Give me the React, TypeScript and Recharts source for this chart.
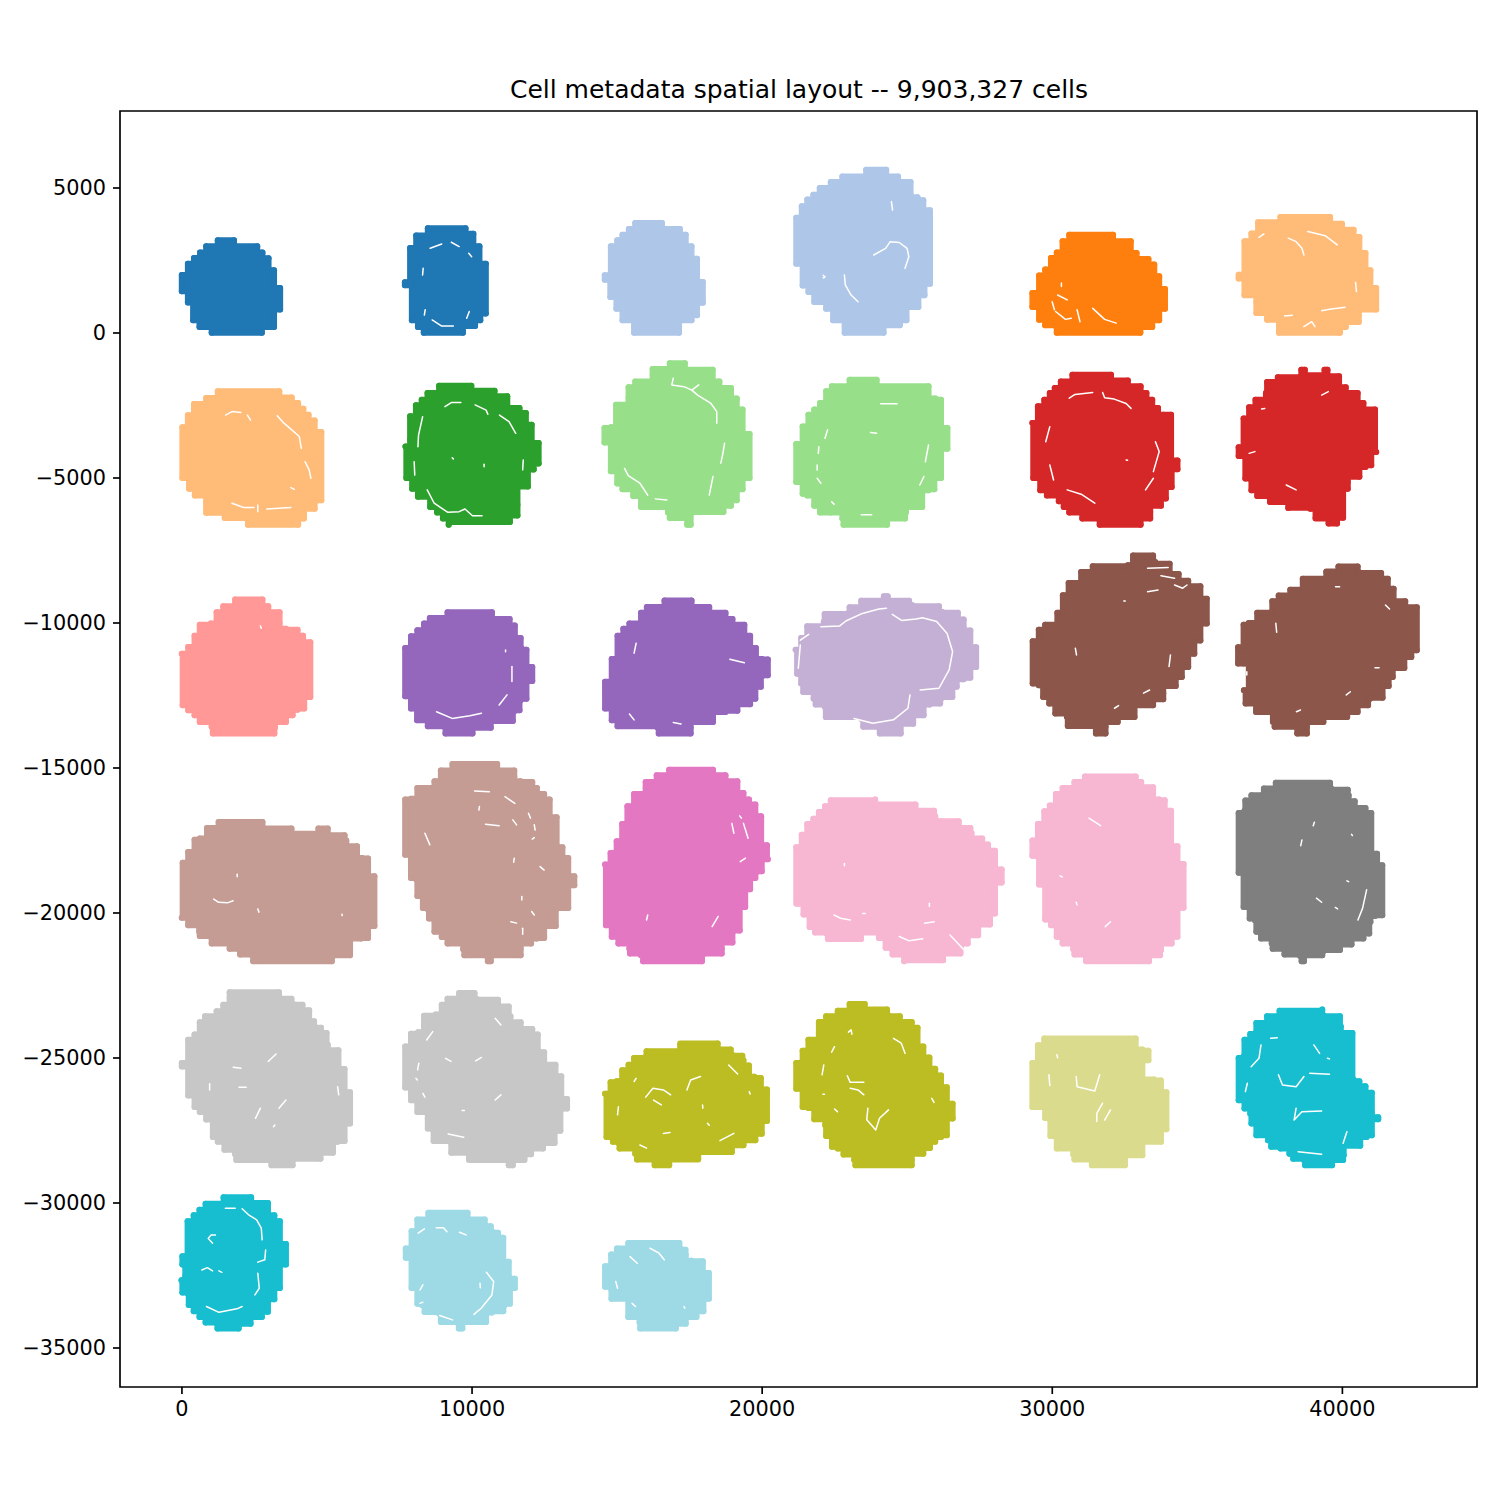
import { ScatterChart, Scatter, XAxis, YAxis, ReferenceArea } from "recharts";

type Pair = number[];

const TITLE = "Cell metadata spatial layout -- 9,903,327 cells";
const xDomain = [-2135, 44640];
const yDomain = [-36345, 7655];
const xTicks = [0, 10000, 20000, 30000, 40000];
const yTicks = [5000, 0, -5000, -10000, -15000, -20000, -25000, -30000, -35000];

// my x readings came out a little high against the ticks
const X_READING_BIAS = 45;

// tissue outlines, corner points of the tile staircase
const blob01: Pair[] = [[1840,3200],[2640,2990],[2820,2780],[3030,2580],[3220,2160],[3430,1550],[3430,810],[3220,210],[2800,10],[1070,10],[650,210],[430,440],[250,1050],[40,1440],[40,2000],[250,2390],[460,2590],[670,2780],[880,2990],[1280,3200]];
const blob02: Pair[] = [[8520,3610],[9820,3610],[10090,3420],[10300,2990],[10520,2390],[10520,670],[10330,440],[10150,240],[9730,10],[8380,10],[8180,210],[7970,440],[7940,1650],[7730,1650],[7730,1750],[7910,2930],[8120,3360]];
const blob03: Pair[] = [[16590,3790],[17210,3590],[17410,3390],[17610,2990],[17800,2560],[18000,1760],[18000,1040],[17800,610],[17610,440],[17180,230],[17180,10],[15630,10],[15630,230],[15230,440],[15020,840],[14810,1240],[14810,1840],[14620,1840],[14620,1990],[14830,1990],[14830,2990],[15050,3200],[15230,3390],[15450,3590],[15670,3790]];
const blob04: Pair[] = [[24320,5630],[24730,5400],[25160,5210],[25160,4800],[25400,4680],[25600,4580],[25600,4230],[25830,4230],[25830,1700],[25640,1700],[25640,1300],[25430,1300],[25430,900],[25020,440],[24790,270],[24230,10],[22890,10],[22890,240],[22490,440],[22250,840],[21840,1070],[21840,1410],[21640,1410],[21440,1640],[21440,2390],[21220,2390],[21220,3970],[21410,4370],[21600,4600],[21810,4770],[22030,5000],[22410,5210],[22810,5400],[23630,5630]];
const blob05: Pair[] = [[32140,3390],[32750,3160],[32950,2760],[33360,2550],[33560,2360],[33730,1960],[33930,1520],[33930,840],[33730,440],[33490,210],[33080,10],[30200,10],[30170,230],[29800,270],[29590,460],[29590,840],[29360,900],[29360,1380],[29590,1440],[29590,1980],[29800,2190],[30000,2590],[30200,2780],[30400,3160],[30630,3390]];
const blob06: Pair[] = [[39620,4000],[40030,3770],[40430,3560],[40630,3310],[40840,2760],[41010,2160],[41210,1550],[41210,810],[40610,610],[40610,380],[40160,210],[39960,10],[37860,10],[37860,320],[37450,460],[37080,690],[37080,1070],[36670,1300],[36670,1880],[36470,1880],[36470,2010],[36670,2010],[36670,3160],[36910,3430],[37140,3820],[37910,3820],[37910,4000]];
const blob07: Pair[] = [[3400,-2010],[3830,-2220],[4050,-2410],[4230,-2610],[4410,-2820],[4620,-3020],[4850,-3410],[4850,-5770],[4620,-5830],[4620,-6060],[4250,-6230],[4250,-6400],[4050,-6610],[2320,-6610],[2280,-6400],[1520,-6380],[1480,-6200],[880,-6200],[880,-5830],[490,-5600],[290,-5370],[290,-5000],[60,-5000],[60,-3250],[250,-3220],[250,-2840],[460,-2790],[460,-2450],[860,-2410],[880,-2240],[1280,-2220],[1280,-2010]];
const blob08: Pair[] = [[10020,-1820],[10820,-1990],[11260,-2180],[11680,-2590],[11900,-2760],[12100,-3160],[12340,-3790],[12340,-4500],[12170,-4710],[11970,-5290],[11610,-5920],[11610,-6290],[11350,-6520],[9240,-6610],[9040,-6400],[8840,-6190],[8600,-6000],[8180,-5650],[7980,-5370],[7780,-5000],[7750,-3910],[7910,-3670],[7910,-2870],[8110,-2490],[8310,-2300],[8510,-2070],[8910,-2010],[8910,-1820]];
const blob09: Pair[] = [[17380,-1040],[17380,-1240],[18340,-1270],[18570,-1670],[18970,-1900],[19170,-2260],[19370,-2640],[19610,-3480],[19610,-5000],[19370,-5020],[19370,-5390],[19170,-5420],[19170,-5770],[18970,-5960],[18710,-6170],[17650,-6190],[17580,-6610],[17460,-6610],[17420,-6380],[16860,-6380],[16800,-6190],[15870,-6000],[15600,-5620],[15230,-5390],[15050,-5190],[15050,-4790],[14830,-4770],[14830,-3810],[14610,-3780],[14610,-3280],[14830,-3250],[15010,-2470],[15440,-2240],[15440,-1870],[15670,-1670],[16270,-1440],[16270,-1240],[16860,-1240],[16860,-1040]];
const blob10: Pair[] = [[23990,-1610],[24030,-1840],[25780,-1840],[26010,-2260],[26210,-2300],[26210,-3250],[26430,-3280],[26430,-3990],[26210,-4020],[26210,-5000],[25980,-5020],[25980,-5390],[25780,-5420],[25560,-5620],[25560,-6000],[25000,-6190],[24970,-6400],[24350,-6430],[24350,-6610],[22850,-6610],[22810,-6400],[22410,-6190],[22040,-6190],[21840,-5960],[21840,-5650],[21600,-5600],[21440,-5540],[21440,-5160],[21220,-5140],[21220,-3830],[21440,-3790],[21440,-3220],[21640,-3160],[21640,-2820],[21840,-2640],[22040,-2410],[22250,-2360],[22250,-2010],[22450,-1840],[23060,-1800],[23060,-1610]];
const blob11: Pair[] = [[32070,-1440],[32650,-1640],[33090,-1840],[33290,-2070],[33490,-2300],[33690,-2590],[33890,-2820],[34140,-2820],[34140,-4370],[34360,-4400],[34360,-4700],[34160,-4730],[34160,-5310],[33960,-5340],[33960,-5710],[33790,-5960],[33420,-6170],[33420,-6400],[33090,-6610],[31680,-6610],[31660,-6420],[31080,-6400],[31040,-6190],[30630,-6190],[30440,-6000],[30270,-5800],[29860,-5600],[29630,-5420],[29630,-5020],[29390,-5000],[29360,-3100],[29550,-3070],[29550,-2530],[29770,-2300],[29960,-2070],[30130,-1900],[30340,-1670],[30740,-1640],[30740,-1440]];
const blob12: Pair[] = [[38630,-1270],[38750,-1270],[38750,-1460],[39430,-1460],[39430,-1270],[39530,-1270],[39530,-1460],[39930,-1490],[40160,-1870],[40570,-2070],[40770,-2410],[41170,-2640],[41210,-4100],[41040,-4160],[41040,-4560],[40840,-4620],[40630,-4960],[40230,-5140],[40230,-5370],[40070,-5420],[40070,-6370],[39860,-6400],[39860,-6570],[39570,-6570],[39540,-6400],[39120,-6380],[38940,-6060],[38180,-6030],[38150,-5830],[37550,-5830],[37510,-5650],[37110,-5620],[36910,-5420],[36910,-5080],[36700,-5020],[36670,-4280],[36470,-4240],[36470,-3940],[36670,-3910],[36640,-2950],[36870,-2910],[36830,-2560],[37050,-2300],[37410,-2070],[37450,-1690],[37820,-1530],[38630,-1460]];
const blob13: Pair[] = [[2820,-9190],[3020,-9420],[3410,-9630],[3410,-10020],[3630,-10200],[4030,-10230],[4220,-10440],[4470,-10660],[4470,-12550],[4260,-12610],[4260,-12950],[4030,-12990],[3860,-13180],[3630,-13410],[3250,-13610],[3230,-13810],[1110,-13810],[1070,-13580],[660,-13410],[480,-13180],[260,-13010],[70,-12840],[40,-11060],[260,-10830],[480,-10440],[660,-10060],[1040,-10020],[1240,-9630],[1470,-9420],[1880,-9400],[1880,-9190]];
const blob14: Pair[] = [[10730,-9630],[11340,-9860],[11520,-10090],[11520,-10460],[11720,-10520],[11740,-10860],[11920,-10920],[11920,-11470],[12120,-11520],[12120,-12000],[11920,-12030],[11920,-12610],[11720,-12660],[11680,-13010],[11480,-13070],[11450,-13380],[10690,-13410],[10690,-13610],[10060,-13640],[10060,-13810],[9130,-13810],[9130,-13580],[8520,-13560],[8520,-13350],[8150,-13350],[8150,-12990],[7940,-12950],[7940,-12570],[7740,-12530],[7740,-10860],[7940,-10800],[7940,-10460],[8160,-10250],[8390,-10020],[8590,-9830],[9200,-9790],[9200,-9630]];
const blob15: Pair[] = [[17610,-9220],[18220,-9450],[18780,-9650],[19020,-9860],[19430,-10060],[19630,-10440],[19830,-10860],[20040,-11240],[20240,-11260],[20240,-11800],[20040,-11840],[20000,-12200],[19810,-12260],[19810,-12610],[19630,-12800],[19190,-12840],[19190,-13030],[18780,-13070],[18350,-13410],[17580,-13610],[17580,-13810],[16480,-13810],[16440,-13610],[15060,-13560],[14860,-13350],[14860,-12990],[14630,-12950],[14630,-12030],[14860,-12000],[14860,-11240],[15060,-11200],[15060,-10440],[15260,-10200],[15470,-10020],[15870,-9650],[16070,-9450],[16680,-9420],[16680,-9220]];
const blob16: Pair[] = [[24240,-9080],[24370,-9080],[24430,-9230],[25110,-9230],[25220,-9390],[26140,-9420],[26250,-9620],[26790,-9650],[26990,-9880],[26990,-10170],[27220,-10260],[27220,-10840],[27420,-10840],[27420,-11520],[27220,-11550],[27220,-11890],[26990,-11940],[26750,-12200],[26600,-12550],[26250,-12580],[26180,-12780],[25820,-12810],[25610,-13180],[25250,-13470],[24820,-13810],[24100,-13810],[24030,-13580],[23530,-13580],[23460,-13300],[22740,-13240],[22240,-13240],[22200,-12890],[21890,-12810],[21820,-12610],[21460,-12380],[21390,-12090],[21250,-11750],[21200,-10920],[21390,-10520],[21600,-10110],[22170,-9960],[22200,-9690],[23030,-9650],[23060,-9460],[23460,-9230],[24240,-9230]];
const blob17: Pair[] = [[33520,-7670],[33590,-7900],[34090,-7960],[34400,-8310],[34730,-8540],[35150,-8730],[35150,-9140],[35370,-9160],[35370,-10020],[35150,-10060],[35150,-10600],[34970,-10630],[34940,-11060],[34730,-11090],[34730,-11520],[34510,-11550],[34510,-11860],[34300,-11890],[34300,-12170],[33870,-12430],[33870,-12630],[33520,-12840],[32880,-13240],[32300,-13410],[31880,-13580],[31880,-13810],[31550,-13810],[31510,-13580],[30580,-13550],[30550,-13240],[30150,-13120],[29940,-12780],[29730,-12550],[29580,-12150],[29370,-12090],[29370,-10630],[29580,-10570],[29580,-10230],[29800,-10060],[30220,-9650],[30410,-9600],[30410,-9040],[30610,-8960],[30610,-8620],[31040,-8240],[31440,-8220],[31440,-8040],[32650,-8010],[32830,-7820],[32830,-7670]];
const blob18: Pair[] = [[40570,-8050],[40610,-8240],[41380,-8280],[41610,-8470],[41810,-8820],[42210,-9250],[42610,-9460],[42610,-10940],[42420,-11170],[42180,-11550],[41780,-11860],[41640,-12170],[41430,-12200],[41430,-12580],[41000,-12610],[40930,-12840],[40570,-13070],[40210,-13240],[39390,-13410],[38820,-13580],[38820,-13810],[38490,-13810],[38450,-13580],[37710,-13580],[37650,-13410],[37070,-13070],[36710,-12780],[36650,-12320],[36820,-12260],[36820,-11430],[36640,-11400],[36450,-11400],[36450,-10840],[36640,-10800],[36640,-10060],[36820,-10000],[37110,-9650],[37630,-9600],[37630,-9250],[37850,-9050],[38250,-8850],[38680,-8470],[39490,-8430],[39490,-8240],[39910,-8220],[39910,-8050]];
const blob19: Pair[] = [[1310,-16860],[2820,-16860],[2850,-17070],[3820,-17090],[3860,-17270],[4710,-17270],[4750,-17090],[5070,-17090],[5110,-17300],[5650,-17320],[5710,-17500],[6080,-17700],[6260,-18100],[6460,-18120],[6460,-18700],[6680,-18730],[6680,-20450],[6460,-20480],[6460,-20860],[6220,-20880],[5840,-21280],[5840,-21460],[5250,-21480],[5210,-21660],[2500,-21660],[2460,-21460],[2050,-21430],[2010,-21250],[1690,-21230],[1650,-21050],[1070,-21050],[1040,-20830],[660,-20790],[640,-20650],[260,-20420],[260,-20190],[40,-20160],[70,-18270],[260,-18240],[260,-17900],[480,-17850],[480,-17470],[660,-17430],[910,-17070],[1310,-17070]];
const blob20: Pair[] = [[10910,-14860],[10940,-15070],[11500,-15090],[11500,-15290],[11720,-15460],[12120,-15480],[12280,-15690],[12530,-15900],[12720,-16090],[12740,-16700],[12960,-16700],[12960,-17700],[13160,-17730],[13160,-18080],[13360,-18100],[13360,-18700],[13570,-18730],[13570,-19040],[13360,-19070],[13360,-19830],[12960,-19870],[12930,-20450],[12550,-20480],[12530,-20860],[12280,-20880],[12080,-21050],[11720,-21230],[11720,-21460],[10730,-21480],[10690,-21660],[10590,-21660],[10550,-21480],[9780,-21460],[9740,-21250],[9200,-21050],[9000,-20830],[8750,-20650],[8750,-20250],[8560,-20190],[8520,-19870],[8350,-19830],[8320,-19450],[8160,-19410],[8120,-18840],[7940,-18790],[7940,-18030],[7740,-17990],[7740,-16090],[7940,-16060],[8160,-15690],[8750,-15460],[8970,-15090],[9370,-15060],[9370,-14860]];
const blob21: Pair[] = [[16840,-15060],[18350,-15060],[18380,-15230],[18780,-15250],[19190,-15460],[19400,-15860],[19590,-16090],[19810,-16260],[19810,-16610],[20010,-16660],[20010,-17620],[20210,-17660],[20240,-18150],[20030,-18180],[20030,-18560],[19830,-18610],[19810,-18790],[19630,-18840],[19630,-19180],[19460,-19220],[19460,-19790],[19270,-19820],[19270,-20600],[19050,-20630],[19020,-21020],[18650,-21230],[18650,-21400],[18010,-21430],[17970,-21660],[15940,-21660],[15870,-21460],[15490,-21400],[15470,-21230],[15090,-21050],[14860,-20820],[14860,-20480],[14660,-20420],[14630,-18330],[14820,-18270],[14820,-17930],[15030,-17870],[15030,-17530],[15220,-17470],[15220,-16930],[15400,-16860],[15400,-16320],[15630,-16260],[15630,-15900],[16030,-15690],[16030,-15480],[16410,-15440],[16410,-15250],[16840,-15230]];
const blob22: Pair[] = [[22410,-16110],[23940,-16090],[23990,-16260],[25330,-16260],[25370,-16460],[25970,-16470],[26010,-16660],[26210,-16840],[26820,-16840],[26860,-17040],[27220,-17070],[27260,-17240],[27630,-17430],[27830,-17640],[28070,-17850],[28070,-18420],[28300,-18500],[28300,-18950],[28100,-18990],[28070,-20020],[27900,-20050],[27900,-20400],[27490,-20420],[27490,-20770],[27130,-20820],[27130,-21050],[26910,-21110],[26880,-21400],[26280,-21430],[26280,-21630],[24940,-21660],[24920,-21480],[24540,-21430],[24510,-21250],[24300,-21200],[24270,-20860],[24070,-20860],[24070,-20670],[23450,-20670],[23450,-20900],[22310,-20900],[22270,-20710],[21870,-20670],[21680,-20480],[21680,-20100],[21470,-20050],[21470,-19730],[21260,-19680],[21220,-17730],[21410,-17660],[21410,-17300],[21600,-17270],[21600,-16930],[21810,-16750],[22000,-16520],[22210,-16320],[22410,-16300]];
const blob23: Pair[] = [[31170,-15290],[32920,-15290],[33110,-15480],[33520,-15660],[33730,-16090],[33920,-16110],[34140,-16470],[34140,-17660],[34360,-17700],[34360,-18270],[34570,-18310],[34570,-19820],[34360,-19870],[34360,-20820],[34160,-20860],[34160,-21050],[33790,-21280],[33760,-21460],[33380,-21660],[31210,-21660],[31170,-21460],[30810,-21430],[30770,-21250],[30400,-21050],[30200,-20820],[30000,-20420],[29800,-20220],[29770,-19070],[29590,-19020],[29550,-18070],[29360,-18030],[29360,-17500],[29550,-17470],[29550,-16930],[29770,-16890],[29770,-16490],[29960,-16290],[30170,-16240],[30170,-15900],[30400,-15690],[30810,-15480],[31170,-15460]];
const blob24: Pair[] = [[37750,-15510],[39620,-15510],[39660,-15710],[40230,-15750],[40260,-15940],[40470,-16150],[40840,-16380],[41040,-16550],[41040,-17930],[41240,-17960],[41240,-18310],[41420,-18350],[41420,-20080],[41170,-20100],[41010,-20310],[40970,-20710],[40770,-20880],[40360,-21090],[39960,-21280],[39390,-21320],[39350,-21460],[38750,-21480],[38720,-21660],[38640,-21660],[38590,-21480],[38050,-21430],[38020,-21250],[37640,-21230],[37610,-21050],[37240,-20880],[37080,-20650],[37030,-20250],[36850,-20190],[36850,-19820],[36640,-19790],[36640,-18640],[36470,-18610],[36470,-16550],[36670,-16470],[36700,-16120],[36910,-15940],[37320,-15900],[37340,-15710],[37750,-15690]];
const blob25: Pair[] = [[1690,-22730],[3390,-22730],[3430,-22930],[3820,-22960],[3860,-23120],[4200,-23160],[4430,-23350],[4440,-23700],[4600,-23730],[4630,-23930],[4840,-23960],[5030,-24140],[5070,-24540],[5440,-24730],[5440,-25310],[5650,-25380],[5650,-26110],[5840,-26180],[5840,-27260],[5650,-27280],[5650,-27860],[5410,-27890],[5250,-28120],[5250,-28270],[4840,-28300],[4820,-28470],[3860,-28520],[3860,-28700],[3130,-28700],[3090,-28520],[1920,-28520],[1880,-28320],[1510,-28160],[1280,-27890],[1110,-27720],[1110,-27150],[880,-27120],[660,-26860],[480,-26690],[260,-26290],[260,-25310],[40,-25290],[40,-25170],[260,-25150],[260,-24370],[480,-24190],[660,-23770],[840,-23560],[1240,-23390],[1470,-23160],[1690,-22930]];
const blob26: Pair[] = [[9600,-22760],[10130,-22760],[10190,-22960],[10940,-22990],[10960,-23190],[11310,-23220],[11370,-23560],[11720,-23770],[11740,-23960],[12120,-24000],[12310,-24190],[12340,-24770],[12530,-24800],[12530,-25000],[12920,-25230],[12920,-25610],[13120,-25630],[13120,-26380],[13320,-26410],[13320,-26740],[13120,-26780],[13090,-27510],[12900,-27550],[12890,-27930],[12530,-27950],[12490,-28120],[12080,-28160],[12080,-28320],[11880,-28350],[11850,-28520],[11450,-28550],[11450,-28700],[11310,-28700],[11290,-28520],[9940,-28500],[9910,-28300],[9330,-28270],[9290,-27890],[8720,-27860],[8700,-27470],[8520,-27430],[8520,-27090],[8160,-26860],[8120,-26480],[7940,-26460],[7940,-26050],[7740,-26020],[7740,-24600],[7940,-24540],[7940,-24160],[8190,-24110],[8390,-23910],[8390,-23540],[8790,-23500],[9000,-23160],[9200,-22960],[9600,-22940]];
const blob27: Pair[] = [[17220,-24540],[18510,-24500],[18550,-24710],[18960,-24710],[19000,-24880],[19360,-24920],[19400,-25080],[19590,-25260],[19770,-25650],[20000,-25690],[20000,-26070],[20210,-26090],[20210,-27170],[20030,-27240],[20030,-27610],[19830,-27630],[19810,-27840],[19430,-27860],[19400,-28010],[19020,-28040],[19000,-28240],[17880,-28270],[17840,-28470],[16870,-28500],[16840,-28700],[16340,-28700],[16300,-28520],[15730,-28500],[15670,-28300],[15130,-28120],[15090,-27930],[14900,-27890],[14860,-27740],[14680,-27720],[14630,-26230],[14820,-26180],[14820,-25840],[15030,-25800],[15220,-25420],[15440,-25230],[15630,-25000],[16030,-24960],[16060,-24770],[17220,-24740]];
const blob28: Pair[] = [[23060,-23140],[23580,-23140],[23620,-23330],[24350,-23330],[24390,-23530],[24790,-23560],[24790,-23730],[25200,-23760],[25400,-23960],[25400,-24560],[25600,-24600],[25600,-24940],[25810,-24980],[25810,-25340],[26010,-25370],[26210,-25600],[26210,-25970],[26410,-26010],[26410,-26550],[26610,-26580],[26610,-27090],[26410,-27110],[26410,-27660],[26210,-27720],[26010,-27890],[25830,-28100],[25600,-28300],[25200,-28520],[25200,-28700],[23260,-28700],[23220,-28520],[22850,-28330],[22650,-28120],[22450,-28060],[22450,-27720],[22250,-27690],[22220,-27320],[21840,-27110],[21640,-26720],[21440,-26690],[21440,-26110],[21220,-26060],[21220,-25170],[21440,-25110],[21440,-24750],[21640,-24370],[22000,-24140],[22000,-23760],[22250,-23560],[22650,-23370],[23060,-23330]];
const blob29: Pair[] = [[29770,-24330],[32920,-24330],[33150,-24710],[33360,-24750],[33360,-25080],[33150,-25130],[33560,-25740],[33790,-25780],[33790,-26150],[33980,-26180],[33980,-27460],[33790,-27490],[33790,-27890],[33150,-27950],[33150,-28350],[32570,-28380],[32550,-28700],[31410,-28700],[31390,-28520],[30810,-28500],[30770,-28330],[30200,-28120],[30170,-27720],[29980,-27690],[29960,-27110],[29800,-27070],[29770,-26720],[29360,-26690],[29360,-25170],[29550,-25140],[29550,-24560],[29770,-24520]];
const blob30: Pair[] = [[37880,-23370],[39350,-23330],[39390,-23530],[39960,-23560],[39990,-23910],[40390,-24140],[40430,-25740],[40630,-25800],[40840,-25970],[41060,-26200],[41060,-26890],[41280,-27040],[41280,-27110],[41060,-27110],[41060,-27660],[40880,-27720],[40660,-28030],[40090,-28350],[40070,-28520],[39690,-28520],[39690,-28700],[38760,-28700],[38720,-28520],[38350,-28470],[38220,-28300],[37910,-28120],[37590,-28060],[37480,-27840],[37080,-27660],[37140,-27320],[36910,-27260],[36870,-26920],[36670,-26740],[36470,-26460],[36470,-25000],[36640,-24940],[36670,-24370],[36870,-24170],[37050,-24140],[37080,-23790],[37450,-23560],[37860,-23530]];
const blob31: Pair[] = [[1480,-29800],[2430,-29800],[2460,-29990],[3010,-30000],[3010,-30380],[3230,-30420],[3230,-30600],[3420,-30630],[3420,-31380],[3630,-31410],[3630,-32120],[3450,-32150],[3420,-32930],[3230,-32970],[3230,-33320],[3010,-33350],[3010,-33750],[2800,-33930],[2430,-33960],[2410,-34160],[2030,-34190],[2000,-34330],[1270,-34330],[1240,-34160],[860,-34120],[650,-33930],[450,-33730],[280,-33520],[240,-33120],[60,-33090],[30,-32660],[160,-32520],[60,-32120],[60,-31840],[240,-31780],[240,-30630],[450,-30420],[650,-30230],[860,-30030],[1480,-29990]];
const blob32: Pair[] = [[8540,-30340],[9890,-30340],[9910,-30540],[10480,-30570],[10500,-30740],[10690,-30800],[10730,-30970],[10940,-31030],[11120,-31200],[11120,-31990],[11310,-32030],[11340,-32580],[11520,-32610],[11520,-32930],[11350,-32950],[11350,-33470],[11150,-33550],[11120,-33730],[10730,-33780],[10530,-34100],[9740,-34120],[9710,-34330],[9590,-34330],[9530,-34120],[8970,-34100],[8910,-33810],[8410,-33760],[8330,-33530],[8160,-33470],[8160,-32930],[7960,-32930],[7930,-31920],[7760,-31890],[7760,-31570],[7960,-31550],[7960,-30970],[8160,-30920],[8160,-30570],[8540,-30540]];
const blob33: Pair[] = [[15430,-31380],[17190,-31380],[17220,-31570],[17400,-31610],[17410,-31780],[17620,-31990],[18000,-32010],[18000,-32380],[18210,-32410],[18210,-33300],[18000,-33320],[18020,-33730],[17810,-33750],[17780,-33930],[17440,-33960],[17410,-34160],[17070,-34330],[15840,-34330],[15820,-34120],[15430,-33930],[15430,-33320],[14850,-33300],[14810,-32930],[14630,-32890],[14630,-32180],[14810,-32150],[14840,-31780],[15040,-31760],[15040,-31570],[15430,-31570]];

const blobs = [blob01, blob02, blob03, blob04, blob05, blob06, blob07, blob08, blob09, blob10, blob11, blob12, blob13, blob14, blob15, blob16, blob17, blob18, blob19, blob20, blob21, blob22, blob23, blob24, blob25, blob26, blob27, blob28, blob29, blob30, blob31, blob32, blob33];

const blobColors = ["#1f77b4","#1f77b4","#aec7e8","#aec7e8","#ff7f0e","#ffbb78","#ffbb78","#2ca02c","#98df8a","#98df8a","#d62728","#d62728","#ff9896","#9467bd","#9467bd","#c5b0d5","#8c564b","#8c564b","#c49c94","#c49c94","#e377c2","#f7b6d2","#f7b6d2","#7f7f7f","#c7c7c7","#c7c7c7","#bcbd22","#bcbd22","#dbdb8d","#17becf","#17becf","#9edae5","#9edae5"];

// white tears inside the tissue, one polyline each
const gaps: Pair[][] = [
  [[8600,2920],[9000,3070]],[[9330,3130],[9600,2980]],[[9930,2750],[10030,2630]],[[8360,2230],[8340,2000]],[[8430,800],[8400,620]],[[8670,450],[9000,240],[9400,240]],[[9860,510],[9950,740]],
  [[23890,2690],[24300,2920],[24460,3150],[24770,3120],[25040,2920],[25100,2630],[24970,2230]],[[22150,1990],[22210,1930],[22150,1900]],[[22880,2000],[22910,1660],[23110,1310],[23350,1080]],[[24500,4530],[24540,4240]],
  [[30160,740],[30500,470],[30700,510]],[[30900,800],[31000,390]],[[30230,1310],[30560,1140]],[[30360,1720],[30360,1600]],[[31440,850],[31850,470],[32250,340]],[[30040,1080],[30120,800]],
  [[38180,3270],[38450,3150],[38650,2920],[38720,2690]],[[38850,3500],[39460,3350],[39870,3040]],[[37170,3300],[37340,3420]],[[40500,1740],[40530,1430]],[[38050,590],[38320,610]],[[38720,220],[38990,390],[39100,220]],[[39330,770],[39600,820],[40140,890]],
  [[1550,-2830],[1770,-2710],[2080,-2740]],[[2300,-2830],[2410,-3000]],[[3330,-2850],[3560,-3110],[3830,-3340],[4090,-3570],[4160,-3980]],[[4290,-4440],[4430,-4720],[4490,-5010]],[[1770,-5870],[2170,-6020],[2530,-6020]],[[2660,-5930],[2660,-6160]],[[2970,-6070],[3800,-6020]],[[3800,-5330],[3920,-5390]],
  [[9110,-2540],[9330,-2400],[9660,-2400]],[[10150,-2480],[10530,-2660],[10590,-2800]],[[10990,-2830],[11320,-3060],[11550,-3460]],[[8340,-2890],[8200,-3520],[8180,-3920]],[[8050,-4440],[8070,-4900]],[[8500,-5410],[8740,-5870],[9200,-6180],[9600,-6160],[9800,-6070],[10060,-6300],[10390,-6300]],[[11810,-4380],[11790,-4720]],[[10460,-4530],[10460,-4610]],[[9360,-4300],[9400,-4340]],
  [[16980,-1560],[16930,-1790],[17350,-1850],[17620,-1970],[17860,-1790],[17620,-1970],[17820,-2140],[18280,-2430],[18480,-2710],[18480,-3110]],[[18750,-3800],[18680,-4210],[18620,-4490]],[[15300,-4670],[15430,-4920],[15830,-5180],[16100,-5590]],[[16360,-5720],[16760,-5760]],[[18350,-4950],[18220,-5590]],
  [[22210,-3630],[22300,-3340]],[[22000,-3920],[21980,-4150]],[[21940,-4550],[21940,-4720]],[[21940,-5010],[22070,-5180]],[[23780,-3430],[23990,-3460]],[[24130,-2440],[24700,-2440]],[[25780,-3860],[25670,-4440]],[[25620,-4950],[25480,-5240]],[[23460,-6270],[23820,-6270]],[[22440,-5820],[22520,-5900]],
  [[30630,-2250],[30830,-2120],[31440,-2050]],[[31780,-2050],[31850,-2230],[32180,-2280],[32590,-2430],[32760,-2600]],[[29960,-3230],[29820,-3750]],[[33600,-3750],[33730,-4090],[33530,-4780]],[[30560,-5410],[31040,-5560],[31510,-5870]],[[33530,-5010],[33260,-5410]],[[32590,-4380],[32640,-4390]],[[29960,-4550],[30090,-5070]],
  [[38110,-5240],[38450,-5410]],[[39330,-2140],[39560,-2020]],[[37260,-2620],[37370,-2600]],[[36830,-4150],[37030,-4090]],
  [[2750,-10100],[2780,-10180]],
  [[8820,-13060],[9360,-13290],[9970,-13200],[10370,-13110]],[[11250,-12480],[10980,-12830]],[[11420,-11500],[11420,-12020]],[[11200,-10930],[11200,-10990]],
  [[15470,-13140],[15630,-13340]],[[16980,-13430],[17250,-13480]],[[18930,-11250],[19430,-11370]],[[15700,-10700],[15630,-11040]],
  [[22070,-10130],[22720,-10100],[22930,-9930],[23500,-9670],[24070,-9520],[24330,-9490]],[[24530,-9700],[24850,-9910],[25350,-9860],[25570,-9820],[26060,-9950],[26420,-10360],[26610,-10990],[26490,-11620],[26140,-12250],[25490,-12310]],[[25140,-12480],[25070,-12940],[24570,-13340],[23860,-13460],[23210,-13290]],[[21360,-10760],[21290,-11560]],[[21650,-10390],[21360,-10590]],
  [[33330,-8110],[34040,-8090]],[[33790,-8370],[34260,-8460]],[[34260,-8690],[34540,-8800],[34690,-8690]],[[33330,-8920],[33690,-8860]],[[32510,-9240],[32560,-9240]],[[34120,-11100],[34070,-11500]],[[30840,-10870],[30880,-11100]],[[33190,-12420],[33400,-12310]],[[32190,-12940],[32330,-12850]],
  [[39810,-8750],[39950,-8750]],[[41530,-9380],[41670,-9520]],[[37750,-10010],[37780,-10320]],[[41170,-11540],[41310,-11540]],[[38460,-13060],[38600,-13000]],[[40320,-12370],[40180,-12480]],[[36750,-11680],[36750,-11790]],
  [[1140,-19520],[1310,-19630],[1610,-19650],[1810,-19580]],[[2660,-19860],[2700,-19970]],[[1950,-18660],[1950,-18750]],[[5560,-20040],[5570,-20090]],
  [[10130,-15790],[10640,-15820]],[[11180,-15990],[11520,-16220]],[[10300,-16330],[10280,-16450]],[[10510,-16940],[10980,-16990]],[[11450,-16790],[11580,-16960]],[[11990,-16560],[12060,-16730]],[[12190,-16960],[12220,-17140]],[[12120,-17450],[12190,-17400]],[[11500,-18110],[11480,-18250]],[[12390,-18400],[12530,-18520]],[[8420,-17250],[8590,-17650]],[[12100,-19950],[12190,-20070]],[[11380,-20300],[11580,-20350]],[[11760,-19430],[11760,-19550]],[[11790,-20530],[11790,-20730]],
  [[19270,-16650],[19330,-16730]],[[18320,-20470],[18530,-20120]],[[19000,-16910],[19070,-17250]],[[19400,-16910],[19560,-17420]],[[19290,-18230],[19470,-18110]],[[16100,-20070],[16060,-20240]],
  [[22520,-20070],[22750,-20180],[23080,-20240]],[[23510,-20020],[23600,-20020]],[[25810,-19660],[25810,-19780]],[[24770,-20810],[25110,-20960],[25580,-20890]],[[26520,-20760],[26790,-21040],[26970,-21240]],[[25640,-20350],[25980,-20300]],[[22880,-18290],[22880,-18370]],
  [[31310,-16730],[31710,-16990]],[[30310,-18720],[30390,-18760]],[[32050,-20300],[31870,-20470]],[[30870,-19630],[30900,-19720]],
  [[38650,-17480],[38610,-17680]],[[39080,-16870],[39040,-16990]],[[40880,-19200],[40740,-19840],[40580,-20240]],[[39150,-19490],[39330,-19630]],[[39800,-19810],[39880,-19860]],[[40200,-18890],[40260,-18920]],[[40360,-17290],[40390,-17330]],
  [[3020,-25120],[3290,-24860]],[[1810,-25320],[2080,-25350]],[[2010,-26010],[2260,-26010]],[[1000,-25890],[1000,-26100]],[[2580,-27080],[2750,-26730]],[[3390,-26730],[3630,-26450]],[[3200,-27370],[3250,-27310]],[[5410,-25990],[5450,-26270]],
  [[10840,-23630],[11040,-23860]],[[8480,-24380],[8690,-24090]],[[8210,-25180],[8170,-25410]],[[8110,-25700],[8160,-25760]],[[8350,-26220],[8420,-26350]],[[9130,-25010],[9320,-25120]],[[10170,-25100],[10370,-24980]],[[10840,-26450],[11040,-26270]],[[9700,-26810],[9780,-26810]],[[9220,-27620],[9760,-27730]],
  [[18890,-25240],[19200,-25550]],[[17450,-26100],[17580,-25760],[17920,-25640]],[[16030,-26350],[16280,-26040],[16640,-26100],[16890,-26270]],[[16300,-26450],[16570,-26620]],[[17990,-26620],[18000,-26730]],[[15700,-25700],[15630,-25810]],[[15090,-26680],[15060,-26960]],[[16640,-27600],[16870,-27570]],[[18590,-27850],[19070,-27600]],[[15830,-28000],[16060,-28110]],[[18160,-27250],[18220,-27320]],[[19600,-26160],[19630,-26240]],
  [[23020,-24110],[23110,-24030],[23140,-24180]],[[22540,-24610],[22440,-24800]],[[22170,-25240],[22110,-25580]],[[24570,-24320],[24840,-24490],[24970,-24840]],[[22980,-25610],[23080,-25840],[23550,-25840]],[[23080,-26040],[23350,-26100],[23550,-26270]],[[23690,-26730],[23650,-27130],[23960,-27480],[24090,-27080],[24400,-26790]],[[22140,-26250],[22190,-26250]],[[22540,-26760],[22640,-26850]],[[25890,-26390],[25970,-26530]],
  [[29930,-25580],[29960,-25950]],[[30870,-25640],[30900,-25990],[31510,-26140],[31680,-25580]],[[31780,-26560],[31580,-26910],[31580,-27190]],[[32050,-26790],[31850,-27140]],[[30200,-24890],[30230,-24990]],
  [[39060,-24550],[39260,-24840]],[[37240,-24550],[37170,-25010],[36900,-25300]],[[37570,-24320],[37800,-24300]],[[37840,-25580],[37980,-25930],[38450,-25990],[38720,-25640]],[[38920,-25530],[39600,-25560]],[[38450,-26730],[38380,-27140],[38650,-26850],[39330,-26830]],[[40200,-27540],[40070,-27940]],[[38520,-28230],[39330,-28320]],[[39530,-25010],[39600,-25030]],[[36770,-25870],[36700,-26160]],
  [[1540,-30180],[1880,-30180]],[[2120,-30200],[2370,-30430],[2620,-30580],[2780,-30870],[2810,-31270]],[[2930,-31620],[2900,-31960],[2660,-32040]],[[1100,-31390],[950,-31220],[1050,-31100],[1200,-31100]],[[730,-32310],[920,-32230],[1100,-32340]],[[1320,-32340],[1420,-32390]],[[2660,-32420],[2710,-32940],[2560,-33170]],[[2120,-33570],[1940,-33650],[1320,-33770],[890,-33570]],
  [[8190,-31040],[8400,-30890]],[[8810,-30850],[9060,-30850],[9180,-30990]],[[9610,-31010],[9840,-31100]],[[10540,-32390],[10790,-32710],[10730,-33170],[10360,-33630],[10110,-33840]],[[10320,-32770],[10330,-32920]],[[8250,-33460],[8350,-33420]],[[8250,-33000],[8350,-32820]],[[8930,-33880],[9370,-34030]],
  [[15490,-31850],[15740,-32080]],[[16180,-31560],[16490,-31730],[16670,-31960]],[[15000,-32710],[15060,-32940]],[[17350,-33570],[17380,-33630]],[[15560,-33460],[15680,-33570]],
];

const toPoints = (pairs: Pair[]) => pairs.map(([x, y]) => ({ x: x - X_READING_BIAS, y }));

// closes the corner points into a staircase, stepping in on the side of the centre
const stairOutline = (color: string) => (props: any) => {
  const pts: { x: number; y: number }[] = props.points;
  const xs = pts.map((p) => p.x);
  const ys = pts.map((p) => p.y);
  const cx = (Math.min(...xs) + Math.max(...xs)) / 2;
  const cy = (Math.min(...ys) + Math.max(...ys)) / 2;
  let d = "";
  pts.forEach((p, i) => {
    const prev = pts[(i + pts.length - 1) % pts.length];
    const a = Math.hypot(prev.x - cx, p.y - cy);
    const b = Math.hypot(p.x - cx, prev.y - cy);
    const corner = a < b ? [prev.x, p.y] : [p.x, prev.y];
    d += `${i === 0 ? "M" : "L"}${corner[0]} ${corner[1]}L${p.x} ${p.y}`;
  });
  return (
    <path
      key="outline"
      d={d + "Z"}
      fill={color}
      stroke={color}
      strokeWidth={6}
      strokeLinejoin="round"
    />
  );
};

const cornerDot = (props: any) => <circle cx={props.cx} cy={props.cy} r={3} fill={props.fill} />;
const noMark = () => <g />;
const formatTick = (value: number) => String(value).replace("-", "\u2212");
const tickStyle = { fontSize: 20.8, fontFamily: "DejaVu Sans", fill: "#000" };
const tickLine = { stroke: "#000", strokeWidth: 1.67 };

export default function App() {
  return (
    <div style={{ position: "absolute", left: 0, top: 0, width: 1500, height: 1500, background: "#fff" }}>
      <ScatterChart width={1500} height={1500} margin={{ top: 111, right: 23, bottom: 0, left: 0 }}>
        <XAxis
          type="number"
          dataKey="x"
          domain={xDomain}
          ticks={xTicks}
          height={113}
          tick={tickStyle}
          tickLine={tickLine}
          tickSize={7}
          tickMargin={7}
          axisLine={false}
          allowDataOverflow
        />
        <YAxis
          type="number"
          dataKey="y"
          domain={yDomain}
          ticks={yTicks}
          width={120}
          tick={tickStyle}
          tickLine={tickLine}
          tickSize={7}
          tickMargin={7}
          tickFormatter={formatTick}
          axisLine={false}
          allowDataOverflow
        />
        {blobs.map((pairs, i) => (
          <Scatter
            key={`blob-${i}`}
            data={toPoints(pairs)}
            fill={blobColors[i]}
            line={stairOutline(blobColors[i])}
            shape={cornerDot}
            isAnimationActive={false}
          />
        ))}
        {gaps.map((pairs, i) => (
          <Scatter
            key={`gap-${i}`}
            data={toPoints(pairs)}
            fill="#fff"
            line={{ stroke: "#fff", strokeWidth: 1.5, strokeLinecap: "round", strokeLinejoin: "round" }}
            shape={noMark}
            isAnimationActive={false}
          />
        ))}
        <ReferenceArea
          x1={xDomain[0]}
          x2={xDomain[1]}
          y1={yDomain[0]}
          y2={yDomain[1]}
          fill="none"
          stroke="#000"
          strokeWidth={1.67}
        />
        <text x={799} y={98} textAnchor="middle" fontSize={25} fontFamily="DejaVu Sans" fill="#000">
          {TITLE}
        </text>
      </ScatterChart>
    </div>
  );
}
